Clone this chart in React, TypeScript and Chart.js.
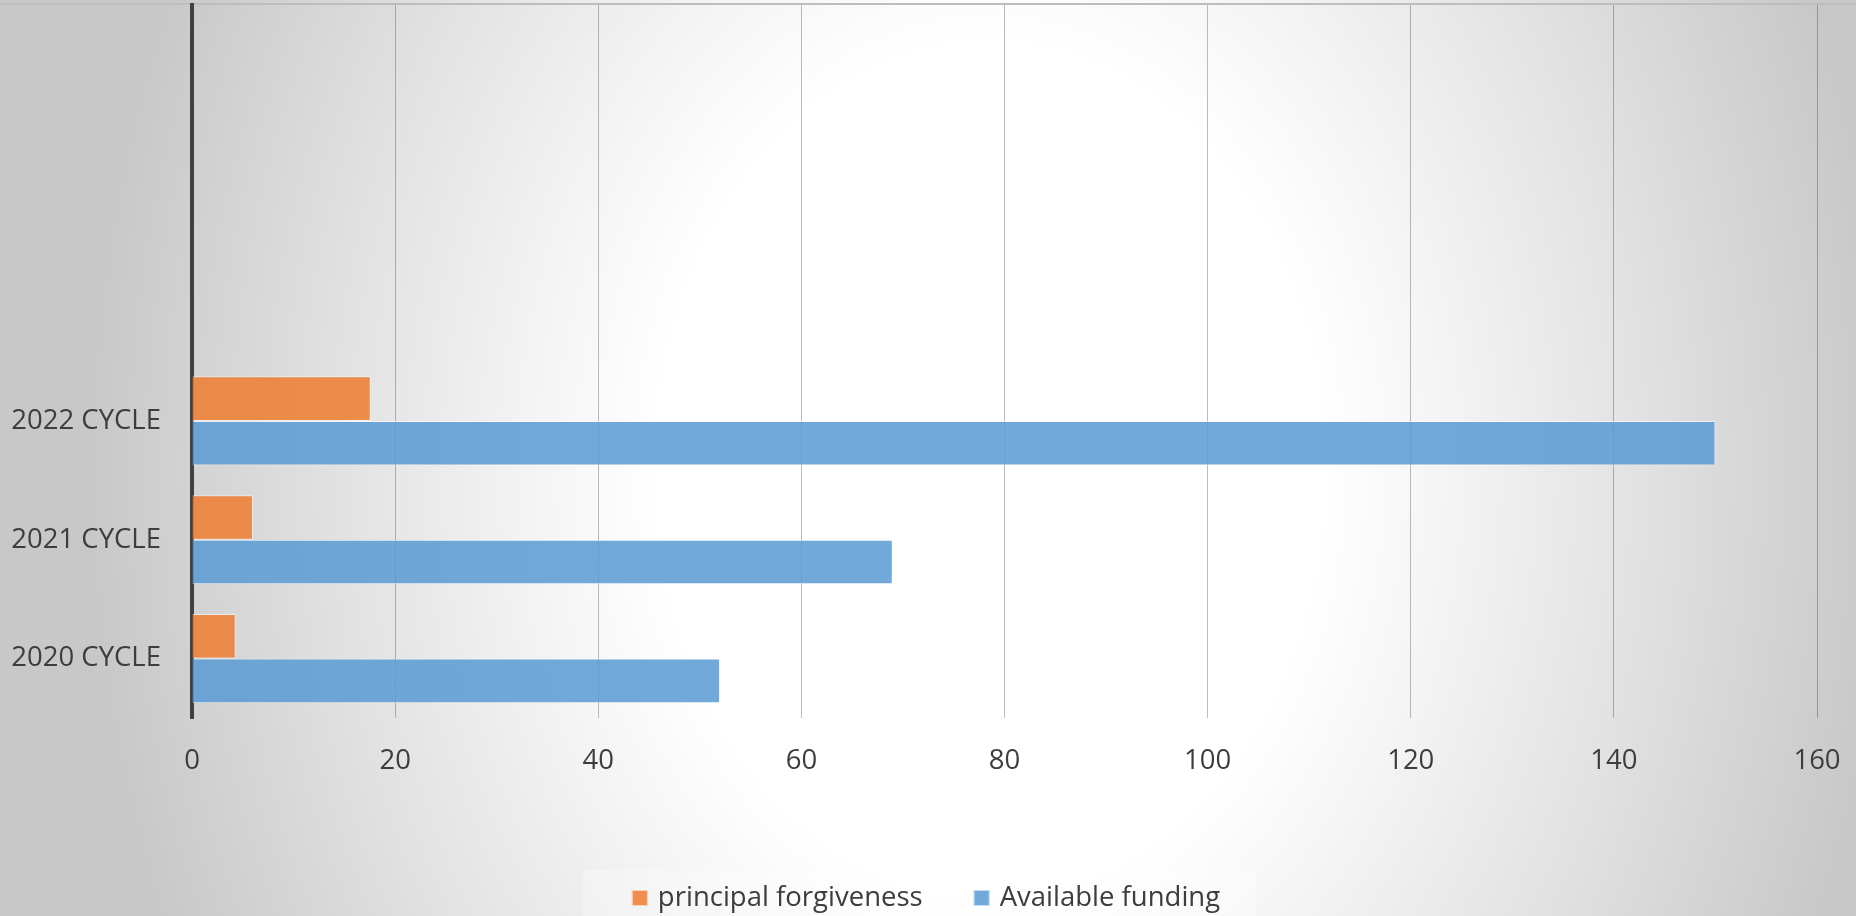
import React, { useEffect, useRef } from "react";
import { Chart, registerables } from "chart.js";

Chart.register(...registerables);

// Categories listed top to bottom (three empty slots above, as in the source chart)
const categories: string[] = ["", "", "", "2022 CYCLE", "2021 CYCLE", "2020 CYCLE"];
const principalForgiveness: (number | null)[] = [null, null, null, 17.6, 6.0, 4.3];
const availableFunding: (number | null)[] = [null, null, null, 150, 69, 52];
const seriesLabels: string[] = ["principal forgiveness", "Available funding"];
const xTickValues: number[] = [0, 20, 40, 60, 80, 100, 120, 140, 160];

const FONT = "'Open Sans', 'DejaVu Sans', sans-serif";
const TEXT = "#3d3d3d";
const ORANGE = "rgba(237,125,49,0.86)";
const BLUE = "rgba(91,155,213,0.86)";

const backgroundPlugin = {
  id: "bgPlugin",
  beforeDraw(chart: any) {
    const { ctx, width, height } = chart;
    ctx.save();
    const cx = 990;
    const cy = 470;
    const a = 900;
    const b = 1150;
    const s = b / a;
    ctx.translate(cx, cy);
    ctx.scale(1, s);
    const g = ctx.createRadialGradient(0, 0, 0, 0, 0, a);
    g.addColorStop(0, "#ffffff");
    g.addColorStop(0.37, "#ffffff");
    g.addColorStop(0.52, "#f3f3f3");
    g.addColorStop(0.72, "#e2e2e2");
    g.addColorStop(1, "#c8c8c8");
    ctx.fillStyle = g;
    ctx.fillRect(-cx, -cy / s, width, height / s);
    ctx.restore();
    ctx.save();
    ctx.fillStyle = "#bdbdbd";
    ctx.fillRect(0, 3, width, 2);
    ctx.restore();
  },
};

const legendPlugin = {
  id: "customLegend",
  afterDraw(chart: any) {
    const { ctx } = chart;
    const ds = chart.data.datasets;
    ctx.save();
    ctx.font = `27.5px ${FONT}`;
    const box = 16;
    const gap = 10;
    const itemGap = 51;
    const widths = ds.map((d: any) => ctx.measureText(d.label).width);
    let total = 0;
    widths.forEach((w: number, i: number) => {
      total += box + gap + w + (i < widths.length - 1 ? itemGap : 0);
    });
    const cy = 898;
    ctx.fillStyle = "rgba(255,255,255,0.25)";
    ctx.fillRect(583, 870, 673, 46);
    let x = 926 - total / 2;
    ds.forEach((d: any, i: number) => {
      ctx.fillStyle = d.backgroundColor;
      ctx.fillRect(x, cy - box / 2, box, box);
      ctx.strokeStyle = "rgba(255,255,255,0.6)";
      ctx.lineWidth = 1;
      ctx.strokeRect(x + 0.5, cy - box / 2 + 0.5, box - 1, box - 1);
      x += box + gap;
      ctx.fillStyle = TEXT;
      ctx.textBaseline = "middle";
      ctx.textAlign = "left";
      ctx.fillText(d.label, x, cy);
      x += widths[i] + itemGap;
    });
    ctx.restore();
  },
};

export default function App() {
  const canvasRef = useRef<HTMLCanvasElement | null>(null);

  useEffect(() => {
    document.body.style.margin = "0";
    const canvas = canvasRef.current;
    if (!canvas) return;
    const chart = new Chart(canvas, {
      type: "bar",
      data: {
        labels: categories,
        datasets: [
          {
            label: seriesLabels[0],
            data: principalForgiveness,
            backgroundColor: ORANGE,
            borderColor: "rgba(255,255,255,0.55)",
            borderWidth: 1,
            categoryPercentage: 0.75,
            barPercentage: 1,
          },
          {
            label: seriesLabels[1],
            data: availableFunding,
            backgroundColor: BLUE,
            borderColor: "rgba(255,255,255,0.55)",
            borderWidth: 1,
            categoryPercentage: 0.75,
            barPercentage: 1,
          },
        ],
      },
      options: {
        indexAxis: "y",
        animation: false,
        responsive: true,
        maintainAspectRatio: false,
        devicePixelRatio: 1,
        layout: { padding: { top: 5, right: 39, left: 0, bottom: 0 } },
        plugins: {
          legend: { display: false },
          tooltip: { enabled: false },
        },
        scales: {
          x: {
            type: "linear",
            min: 0,
            max: 160,
            afterBuildTicks(scale: any) {
              scale.ticks = xTickValues.map((v) => ({ value: v }));
            },
            afterFit(scale: any) {
              scale.height = 198;
              scale.paddingLeft = 0;
              scale.paddingRight = 0;
              scale.paddingTop = 0;
              scale.paddingBottom = 0;
            },
            grid: {
              drawTicks: false,
              color: (c: any) => (c.tick && c.tick.value === 0 ? "rgba(0,0,0,0)" : "rgba(0,0,0,0.26)"),
              lineWidth: 1,
            },
            border: { display: false },
            ticks: {
              padding: 27,
              color: TEXT,
              font: { family: FONT, size: 27.5 },
              maxRotation: 0,
            },
          },
          y: {
            type: "category",
            afterFit(scale: any) {
              scale.width = 192;
              scale.paddingLeft = 0;
              scale.paddingRight = 0;
              scale.paddingTop = 0;
              scale.paddingBottom = 0;
            },
            grid: { display: false, drawTicks: false },
            border: { display: true, color: "#404040", width: 4 },
            ticks: {
              padding: 31,
              color: TEXT,
              font: { family: FONT, size: 27.5 },
            },
          },
        },
      },
      plugins: [backgroundPlugin, legendPlugin],
    });
    return () => chart.destroy();
  }, []);

  return (
    <div style={{ width: "1856px", height: "916px", position: "relative" }}>
      <canvas ref={canvasRef} />
    </div>
  );
}
